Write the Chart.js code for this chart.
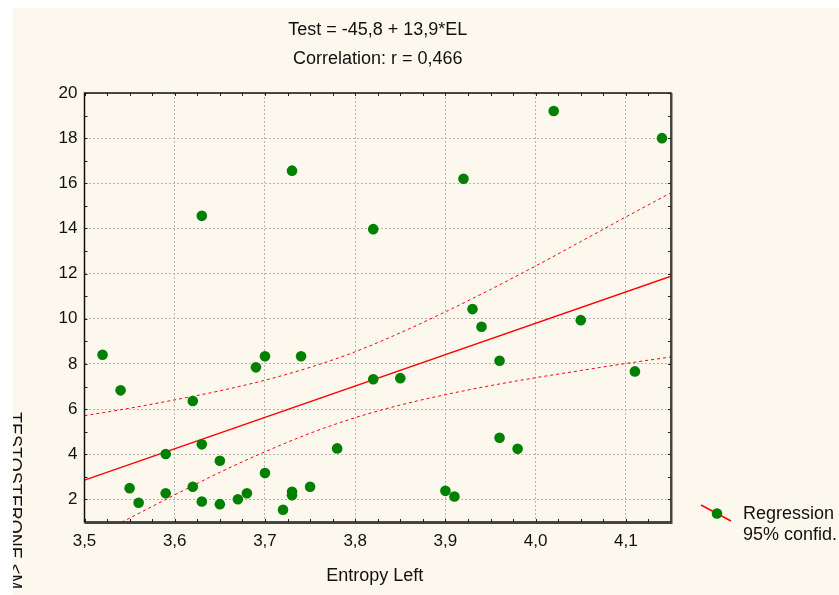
<!DOCTYPE html>
<html>
<head>
<meta charset="utf-8">
<title>Test vs Entropy Left</title>
<script src="https://cdn.jsdelivr.net/npm/chart.js@4.4.1/dist/chart.umd.min.js"></script>
<style>
  html, body { margin: 0; padding: 0; background: #ffffff; overflow: hidden; }
  #wrap { position: absolute; left: 13px; top: 8px; width: 826px; height: 587px; background: #fdf8ee; }
  canvas { display: block; }
</style>
</head>
<body>
<div id="wrap"><canvas id="scatterChart" width="826" height="587"></canvas></div>
<script>
// --- DADOS ---
const entropyLeft = [
  3.52, 3.54, 3.55, 3.56, 3.59, 3.59, 3.62, 3.62, 3.63, 3.63,
  3.63, 3.65, 3.65, 3.67, 3.68, 3.69, 3.70, 3.70, 3.72, 3.73,
  3.73, 3.73, 3.74, 3.75, 3.78, 3.82, 3.82, 3.85, 3.90, 3.91,
  3.92, 3.93, 3.94, 3.96, 3.96, 3.98, 4.02, 4.05, 4.11, 4.14,
];
const testosterone = [
  8.41, 6.83, 2.50, 1.85, 4.01, 2.27, 6.36, 2.56, 14.56, 4.44,
  1.91, 3.71, 1.79, 2.01, 2.27, 7.85, 8.34, 3.17, 1.54, 16.56,
  2.34, 2.19, 8.34, 2.56, 4.26, 13.97, 7.32, 7.37, 2.38, 2.13,
  16.20, 10.43, 9.65, 8.14, 4.73, 4.24, 19.20, 9.94, 7.67, 18.00,
];

// regressão: Test = -45,8 + 13,9*EL
const intercept = -45.8;
const slope = 13.9;
const correlation = 0.466;

// faixa de confiança de 95%
const bandX = [3.5, 3.55, 3.6, 3.65, 3.7, 3.75, 3.8, 3.85, 3.9, 3.95, 4.0, 4.05, 4.1, 4.15];
const bandUpper = [5.71, 6.04, 6.41, 6.81, 7.28, 7.85, 8.54, 9.38, 10.31, 11.30, 12.34, 13.42, 14.51, 15.58];
const bandLower = [0.12, 1.17, 2.20, 3.20, 4.11, 4.93, 5.62, 6.18, 6.64, 7.04, 7.39, 7.71, 8.02, 8.31];

const xTicks = [3.5, 3.6, 3.7, 3.8, 3.9, 4.0, 4.1];
const yTicks = [2, 4, 6, 8, 10, 12, 14, 16, 18, 20];
const xMin = 3.5, xMax = 4.15, yMin = 1, yMax = 20;

const fmt = (v, d) => v.toFixed(d).replace('.', ',');
const FONT = '"Liberation Sans", Arial, sans-serif';

// --- TEXTOS, MOLDURA E LEGENDA ---
const decorPlugin = {
  id: 'decor',
  afterDraw(chart) {
    const { ctx, chartArea: a, scales } = chart;
    const xs = scales.x, ys = scales.y;
    ctx.save();

    // marcas internas (0,025 no X, 1 no Y)
    ctx.strokeStyle = '#222';
    ctx.lineWidth = 1;
    ctx.beginPath();
    for (let i = 0; i <= 26; i++) {
      const px = Math.round(xs.getPixelForValue(xMin + i * 0.025)) + 0.5;
      ctx.moveTo(px, a.bottom); ctx.lineTo(px, a.bottom - 3);
      ctx.moveTo(px, a.top); ctx.lineTo(px, a.top + 3);
    }
    for (let v = yMin; v <= yMax; v++) {
      const py = Math.round(ys.getPixelForValue(v)) + 0.5;
      ctx.moveTo(a.left, py); ctx.lineTo(a.left + 3, py);
      ctx.moveTo(a.right, py); ctx.lineTo(a.right - 3, py);
    }
    ctx.stroke();

    // moldura
    ctx.strokeStyle = '#111';
    ctx.lineWidth = 1.5;
    ctx.strokeRect(a.left, a.top, a.right - a.left, a.bottom - a.top);
    ctx.strokeStyle = '#444';
    ctx.lineWidth = 2;
    ctx.beginPath();
    ctx.moveTo(a.right + 0.5, a.top); ctx.lineTo(a.right + 0.5, a.bottom + 1);
    ctx.lineTo(a.left, a.bottom + 1);
    ctx.stroke();

    // título
    const cx = (a.left + a.right) / 2;
    ctx.fillStyle = '#111';
    ctx.font = '18px ' + FONT;
    ctx.textAlign = 'center';
    ctx.textBaseline = 'alphabetic';
    ctx.fillText(`Test = ${fmt(intercept, 1)} + ${fmt(slope, 1)}*EL`, cx, 27);
    ctx.fillText(`Correlation: r = ${fmt(correlation, 3)}`, cx, 56);

    // eixo X
    ctx.fillText('Entropy Left', cx - 3, 573);

    // eixo Y (rotacionado)
    ctx.save();
    ctx.translate(-4, 404);
    ctx.rotate(Math.PI / 2);
    ctx.textAlign = 'left';
    ctx.fillText('TESTOSTERONE <M', 0, 0);
    ctx.restore();

    // legenda
    ctx.strokeStyle = '#ff0000';
    ctx.lineWidth = 1.5;
    ctx.beginPath();
    ctx.moveTo(688, 497); ctx.lineTo(718, 513);
    ctx.stroke();
    ctx.fillStyle = '#008000';
    ctx.beginPath();
    ctx.arc(704, 505.5, 5.3, 0, Math.PI * 2);
    ctx.fill();
    ctx.fillStyle = '#111';
    ctx.textAlign = 'left';
    ctx.fillText(chart.data.datasets[1].label, 730, 511);
    ctx.fillText(chart.data.datasets[2].label, 730, 532);

    ctx.restore();
  },
};

// --- GRÁFICO ---
const ctx = document.getElementById('scatterChart').getContext('2d');
new Chart(ctx, {
  type: 'scatter',
  data: {
    datasets: [
      {
        label: 'Test',
        data: entropyLeft.map((x, i) => ({ x, y: testosterone[i] })),
        backgroundColor: '#008000',
        borderWidth: 0,
        pointRadius: 5.3,
        order: 0,
      },
      {
        label: 'Regression',
        type: 'line',
        data: [xMin, xMax].map((x) => ({ x, y: intercept + slope * x })),
        borderColor: '#ff0000',
        borderWidth: 1.3,
        pointRadius: 0,
        clip: 0,
        order: 1,
      },
      {
        label: '95% confid.',
        type: 'line',
        data: bandX.map((x, i) => ({ x, y: bandUpper[i] })),
        borderColor: '#ff0000',
        borderWidth: 1,
        borderDash: [3, 3],
        pointRadius: 0,
        cubicInterpolationMode: 'monotone',
        clip: 0,
        order: 2,
      },
      {
        label: '95% confid. (inf)',
        type: 'line',
        data: bandX.map((x, i) => ({ x, y: bandLower[i] })),
        borderColor: '#ff0000',
        borderWidth: 1,
        borderDash: [3, 3],
        pointRadius: 0,
        cubicInterpolationMode: 'monotone',
        clip: 0,
        order: 2,
      },
    ],
  },
  options: {
    responsive: false,
    animation: false,
    layout: { padding: { left: 0, top: 85, right: 168, bottom: 0 } },
    plugins: {
      legend: { display: false },
      tooltip: { enabled: false },
    },
    scales: {
      x: {
        type: 'linear',
        min: xMin,
        max: xMax,
        afterBuildTicks: (s) => { s.ticks = xTicks.map((value) => ({ value })); },
        afterFit: (s) => { s.height = 73; },
        border: { display: false, dash: [2, 2] },
        grid: {
          color: '#b4b4b4',
          lineWidth: 1,
          drawTicks: false,
        },
        ticks: {
          padding: 9,
          color: '#111',
          font: { family: FONT, size: 17 },
          callback: (v) => fmt(v, 1),
        },
      },
      y: {
        type: 'linear',
        min: yMin,
        max: yMax,
        afterBuildTicks: (s) => { s.ticks = yTicks.map((value) => ({ value })); },
        afterFit: (s) => { s.width = 71.5; },
        border: { display: false, dash: [2, 2] },
        grid: {
          color: '#b4b4b4',
          lineWidth: 1,
          drawTicks: false,
        },
        ticks: {
          padding: 7,
          color: '#111',
          font: { family: FONT, size: 17 },
          callback: (v) => String(v),
        },
      },
    },
  },
  plugins: [decorPlugin],
});
</script>
</body>
</html>
